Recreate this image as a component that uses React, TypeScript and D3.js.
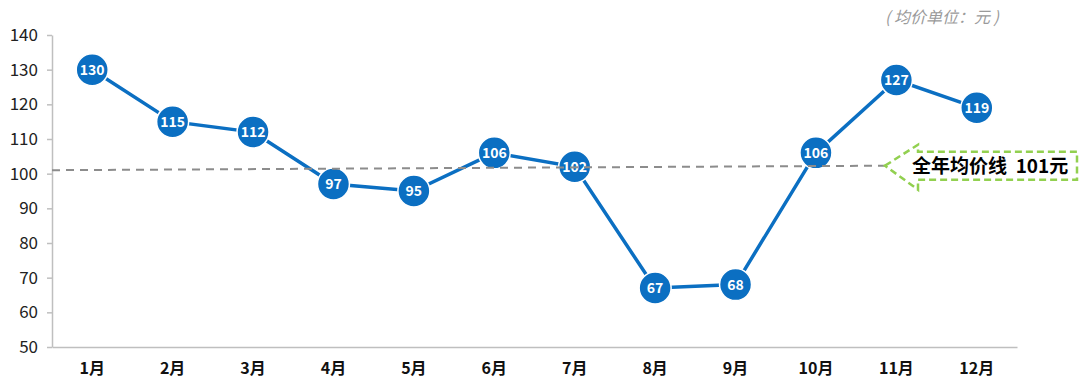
import React, { useRef, useEffect } from "react";
import * as d3 from "d3";

const width = 1080;
const height = 387;

const months = ["1月", "2月", "3月", "4月", "5月", "6月", "7月", "8月", "9月", "10月", "11月", "12月"];
const prices = [130, 115, 112, 97, 95, 106, 102, 67, 68, 106, 127, 119];
const yTicks = [50, 60, 70, 80, 90, 100, 110, 120, 130, 140];
// average line (drawn slightly tilted in the original)
const avgStart = 101;
const avgEnd = 102.3;
const avgLabel = "全年均价线  101元";
const unitNote = "( 均价单位：元 )";

const blue = "#0b6fc2";
const axisGray = "#bfbfbf";
const font = "'Noto Sans CJK SC', 'Noto Sans', sans-serif";

const App = () => {
  const ref = useRef<SVGSVGElement>(null);

  useEffect(() => {
    if (!ref.current) return;
    const svg = d3.select(ref.current);
    svg.selectAll("*").remove();

    const x = d3.scaleBand().domain(months).range([52, 1017]);
    const y = d3.scaleLinear().domain([50, 140]).range([347, 35]);
    const cx = (m: string) => (x(m) as number) + x.bandwidth() / 2;

    // y axis
    const yAxis = svg
      .append("g")
      .attr("transform", "translate(52,0)")
      .call(d3.axisLeft(y).tickValues(yTicks).tickSize(5).tickSizeOuter(0).tickPadding(9));
    yAxis.select(".domain").attr("stroke", axisGray).attr("stroke-width", 1.5);
    yAxis.selectAll(".tick line").attr("stroke", axisGray).attr("stroke-width", 1.5);
    yAxis
      .selectAll(".tick text")
      .attr("fill", "#222")
      .style("font", `17px ${font}`);

    // x axis
    const xAxis = svg
      .append("g")
      .attr("transform", "translate(0,347)")
      .call(d3.axisBottom(x).tickSize(0).tickPadding(16));
    xAxis.select(".domain").attr("stroke", axisGray).attr("stroke-width", 1.5);
    xAxis
      .selectAll(".tick text")
      .attr("fill", "#111")
      .style("font", `bold 16px ${font}`);

    // price line
    const line = d3
      .line<number>()
      .x((_, i) => cx(months[i]))
      .y((d) => y(d));
    svg
      .append("path")
      .datum(prices)
      .attr("d", line)
      .attr("fill", "none")
      .attr("stroke", blue)
      .attr("stroke-width", 3.5);

    const pts = svg
      .append("g")
      .selectAll("g")
      .data(prices)
      .join("g")
      .attr("transform", (d, i) => `translate(${cx(months[i])},${y(d)})`);
    pts
      .append("circle")
      .attr("r", 16)
      .attr("fill", blue)
      .attr("stroke", "#fff")
      .attr("stroke-width", 1.5);
    pts
      .append("text")
      .attr("text-anchor", "middle")
      .attr("dy", "0.36em")
      .attr("fill", "#fff")
      .style("font", `bold 14px ${font}`)
      .text((d) => d);

    // dashed average line, on top of the markers
    const avgX1 = 52;
    const avgX2 = 885;
    svg
      .append("line")
      .attr("x1", avgX1)
      .attr("x2", avgX2)
      .attr("y1", y(avgStart))
      .attr("y2", y(avgEnd))
      .attr("stroke", "#8c8c8c")
      .attr("stroke-width", 2)
      .attr("stroke-dasharray", "8,6");

    // arrow callout
    const tipY = y(avgEnd);
    const hx = 918;
    const arrow = [
      [avgX2, tipY],
      [hx, tipY - 21],
      [hx, tipY - 14],
      [1077, tipY - 14],
      [1077, tipY + 14],
      [hx, tipY + 14],
      [hx, tipY + 24],
    ];
    svg
      .append("path")
      .attr("d", d3.line()(arrow as [number, number][]) + "Z")
      .attr("fill", "#fff")
      .attr("stroke", "#92d050")
      .attr("stroke-width", 2.5)
      .attr("stroke-dasharray", "7,4");
    svg
      .append("text")
      .attr("x", 912)
      .attr("y", tipY + 7)
      .attr("fill", "#000")
      .style("font", `bold 19px ${font}`)
      .style("white-space", "pre")
      .text(avgLabel);

    // unit note
    svg
      .append("text")
      .attr("x", 885)
      .attr("y", 23)
      .attr("fill", "#9a9a9a")
      .style("font", `italic 16px ${font}`)
      .text(unitNote);
  }, []);

  return (
    <svg
      ref={ref}
      width={width}
      height={height}
      style={{ position: "absolute", left: 0, top: 0, background: "#fff" }}
    />
  );
};

export default App;
